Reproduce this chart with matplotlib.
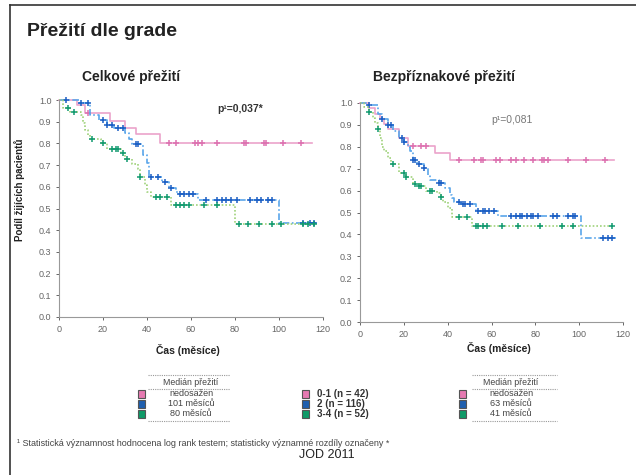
import numpy as np
import matplotlib.pyplot as plt
from matplotlib.patches import Rectangle
from matplotlib.lines import Line2D

plt.rcParams['font.family'] = ['Liberation Sans', 'DejaVu Sans']

# Celkove preziti (overall survival) - step times / survival after the drop
pink_os_t = [0, 8, 12, 23, 30, 35, 46]
pink_os_s = [1.0, 0.976, 0.94, 0.905, 0.87, 0.845, 0.80]
pink_os_c = [13, 50, 53, 62, 63, 65, 72, 84, 85, 93, 94, 102, 110]

blue_os_t = [0, 9, 14, 18, 22, 25, 30, 32, 33, 38, 40, 41, 47, 50, 53, 54, 63, 100]
blue_os_s = [1.0, 0.985, 0.93, 0.91, 0.885, 0.87, 0.85, 0.82, 0.795, 0.745, 0.71, 0.645, 0.62, 0.595, 0.575, 0.565, 0.54, 0.435]
blue_os_c = [3, 10, 13, 20, 22, 24, 27, 29, 35, 36, 42, 45, 48, 51, 55, 57, 59, 61,
             67, 72, 74, 76, 78, 81, 87, 90, 92, 95, 97, 111, 114, 116]

green_os_t = [0, 2, 5, 10, 11, 12, 13, 14, 19, 22, 28, 30, 33, 36, 37, 39, 40, 42, 51, 80]
green_os_s = [1.0, 0.965, 0.947, 0.93, 0.895, 0.86, 0.84, 0.82, 0.80, 0.775, 0.755, 0.73,
              0.705, 0.68, 0.645, 0.61, 0.575, 0.553, 0.515, 0.43]
green_os_c = [4, 7, 15, 20, 24, 26, 27, 29, 31, 37, 44, 46, 49, 53, 55, 57, 59, 66, 72,
              82, 86, 91, 97, 101, 111, 113, 116]

# Bezpriznakove preziti (disease-free survival)
pink_pfs_t = [0, 4, 7, 9, 11, 13, 18, 22, 34, 41]
pink_pfs_s = [1.0, 0.976, 0.952, 0.928, 0.905, 0.88, 0.84, 0.805, 0.77, 0.74]
pink_pfs_c = [24, 28, 30, 45, 52, 55, 56, 62, 64, 69, 71, 75, 79, 83, 84, 86, 95, 103, 112]

blue_pfs_t = [0, 3, 8, 10, 13, 15, 18, 20, 22, 23, 24, 26, 29, 31, 32, 36, 39, 41, 42, 43, 46, 53, 63, 101]
blue_pfs_s = [1.0, 0.99, 0.95, 0.925, 0.90, 0.87, 0.84, 0.82, 0.80, 0.78, 0.74, 0.72, 0.705,
              0.67, 0.65, 0.635, 0.61, 0.58, 0.565, 0.55, 0.54, 0.505, 0.486, 0.385]
blue_pfs_c = [4, 10, 13, 14, 19, 20, 24, 25, 27, 29, 36, 37, 45, 47, 48, 50, 54, 56, 57, 59, 61,
              69, 71, 73, 74, 76, 78, 79, 81, 88, 90, 95, 97, 98, 111, 113, 115]

green_pfs_t = [0, 2, 4, 6, 7, 8, 9, 10, 11, 13, 14, 18, 21, 24, 27, 30, 35, 37, 38, 40, 42, 51]
green_pfs_s = [1.0, 0.98, 0.96, 0.93, 0.91, 0.88, 0.84, 0.80, 0.78, 0.75, 0.72, 0.68, 0.66,
               0.63, 0.62, 0.60, 0.59, 0.57, 0.55, 0.52, 0.48, 0.44]
green_pfs_c = [4, 8, 15, 20, 21, 25, 27, 28, 32, 33, 37, 45, 49, 53, 54, 56, 58, 65, 72, 82, 92, 97, 115]

groups = ['0-1 (n = 42)', '2 (n = 116)', '3-4 (n = 52)']
median_os = ['nedosažen', '101 měsíců', '80 měsíců']
median_pfs = ['nedosažen', '63 měsíců', '41 měsíců']

line_cols = ['#eba3cb', '#5aa6ea', '#9fd27a']
mark_cols = ['#dd72b0', '#1c5fc4', '#129a70']
box_cols = ['#e67ab2', '#1f5fae', '#0f9a68']
styles = ['-', (0, (4, 1.5, 1, 1.5)), (0, (1, 1.2))]

W, H = 636, 475
fig = plt.figure(figsize=(6.36, 4.75), dpi=100)


def fx(x):
    return x / W


def fy(y):
    return 1 - y / H


def km(ax, t, s, cens, t_end, i):
    tt = list(t) + [t_end]
    ss = list(s) + [s[-1]]
    ax.step(tt, ss, where='post', color=line_cols[i], ls=styles[i], lw=1.2, clip_on=False)
    idx = np.searchsorted(t, cens, side='right') - 1
    ax.plot(cens, np.array(s)[idx], ls='none', marker='+', ms=4.5, mew=1.1,
            color=mark_cols[i], clip_on=False)


def setup(ax):
    ax.set_xlim(0, 120)
    ax.set_ylim(0, 1.0)
    ax.spines['top'].set_visible(False)
    ax.spines['right'].set_visible(False)
    for sp in ['left', 'bottom']:
        ax.spines[sp].set_color('#999999')
        ax.spines[sp].set_linewidth(0.8)
    ax.set_xticks(np.arange(0, 121, 20))
    ax.set_yticks(np.arange(0, 1.01, 0.1))
    ax.set_yticklabels(['%.1f' % v for v in np.arange(0, 1.01, 0.1)])
    ax.tick_params(labelsize=6.5, colors='#666666', length=2.5, width=0.7, pad=3)
    ax.patch.set_alpha(0)


ax1 = fig.add_axes([fx(59), fy(317), fx(323) - fx(59), fy(100) - fy(317)])
setup(ax1)
km(ax1, pink_os_t, pink_os_s, pink_os_c, 115, 0)
km(ax1, blue_os_t, blue_os_s, blue_os_c, 117, 1)
km(ax1, green_os_t, green_os_s, green_os_c, 117, 2)
ax1.text(72, 0.96, 'p¹=0,037*', fontsize=7.5, fontweight='bold', color='#333333', va='center')

ax2 = fig.add_axes([fx(360), fy(322), fx(623) - fx(360), fy(103) - fy(322)])
setup(ax2)
km(ax2, pink_pfs_t, pink_pfs_s, pink_pfs_c, 116, 0)
km(ax2, blue_pfs_t, blue_pfs_s, blue_pfs_c, 117, 1)
km(ax2, green_pfs_t, green_pfs_s, green_pfs_c, 115, 2)
ax2.text(60, 0.922, 'p¹=0,081', fontsize=7.5, color='#777777', va='center')

# titles and axis labels
fig.text(fx(27), fy(32), 'Přežití dle grade', fontsize=14, fontweight='bold', color='#222222', va='center')
fig.text(fx(131), fy(77), 'Celkové přežití', fontsize=10, fontweight='bold', color='#222222', ha='center', va='center')
fig.text(fx(444), fy(77), 'Bezpříznakové přežití', fontsize=10, fontweight='bold', color='#222222', ha='center', va='center')
fig.text(fx(20), fy(190), 'Podíl žijících pacientů', fontsize=7, fontweight='bold', color='#222222',
         rotation=90, ha='center', va='center')
fig.text(fx(188), fy(350), 'Čas (měsíce)', fontsize=7.5, fontweight='bold', color='#222222', ha='center', va='center')
fig.text(fx(499), fy(348), 'Čas (měsíce)', fontsize=7.5, fontweight='bold', color='#222222', ha='center', va='center')

# legends
rows_y = [394, 404, 414]
for cx, x0, x1, sq, meds in [(191, 148, 230, 141, median_os), (511, 472, 557, 462, median_pfs)]:
    for ly in [375, 389, 421]:
        fig.add_artist(Line2D([fx(x0), fx(x1)], [fy(ly), fy(ly)], color='#999999', lw=0.8, ls=(0, (1, 1))))
    fig.text(fx(cx), fy(382.5), 'Medián přežití', fontsize=6.3, color='#444444', ha='center', va='center')
    for i, ry in enumerate(rows_y):
        fig.text(fx(cx), fy(ry), meds[i], fontsize=6.5, color='#444444', ha='center', va='center')
        fig.add_artist(Rectangle((fx(sq - 3.5), fy(ry + 4)), 7 / W, 8 / H, facecolor=box_cols[i],
                                 edgecolor='#555555', lw=0.8))
for i, ry in enumerate(rows_y):
    fig.add_artist(Rectangle((fx(305 - 3.5), fy(ry + 4)), 7 / W, 8 / H, facecolor=box_cols[i],
                             edgecolor='#555555', lw=0.8))
    fig.text(fx(317), fy(ry), groups[i], fontsize=7, fontweight='bold', color='#333333', va='center')

fig.text(fx(17), fy(443), '¹ Statistická významnost hodnocena log rank testem; statisticky významné rozdíly označeny *',
         fontsize=6.5, color='#444444', va='center')
fig.text(fx(327), fy(455), 'JOD 2011', fontsize=9, color='#222222', ha='center', va='center')

# slide frame
fig.add_artist(Line2D([fx(10), 1], [fy(5), fy(5)], color='#333333', lw=1.2))
fig.add_artist(Line2D([fx(10), fx(10)], [fy(5), 0], color='#333333', lw=1.2))

fig.savefig('out.png', dpi=100)
